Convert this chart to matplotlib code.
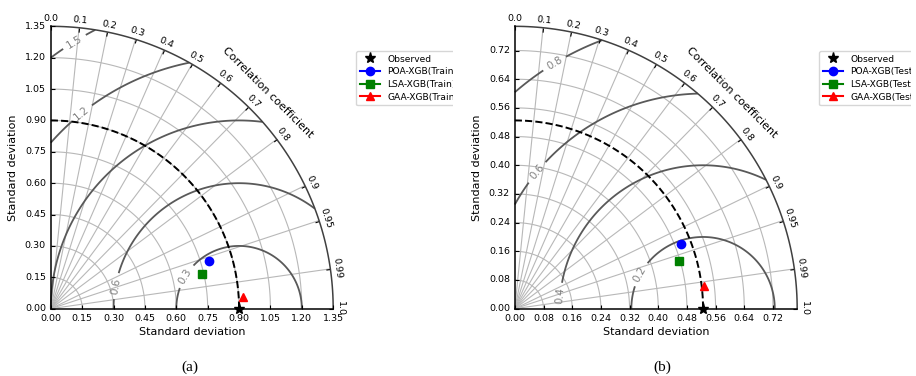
import numpy as np
import matplotlib as mpl
mpl.use('Agg')
import matplotlib.pyplot as plt
from matplotlib.projections import PolarAxes
from matplotlib.transforms import Bbox, TransformedBbox
import mpl_toolkits.axisartist.floating_axes as FA
import mpl_toolkits.axisartist.grid_finder as GF

# data
corr_ticks = [0.0, 0.1, 0.2, 0.3, 0.4, 0.5, 0.6, 0.7, 0.8, 0.9, 0.95, 0.99, 1.0]
markers = ["o", "s", "^"]
colors = ["b", "g", "r"]

# (a) train
names_train = ["POA-XGB(Train)", "LSA-XGB(Train)", "GAA-XGB(Train)"]
ref_train = 0.9
std_train = [0.787, 0.743, 0.919]
corr_train = [0.958, 0.975, 0.998]
sticks_train = [0.0, 0.15, 0.30, 0.45, 0.60, 0.75, 0.90, 1.05, 1.20, 1.35]
levels_train = [0.3, 0.6, 0.9, 1.2, 1.5]

# (b) test
names_test = ["POA-XGB(Test)", "LSA-XGB(Test)", "GAA-XGB(Test)"]
ref_test = 0.525
std_test = [0.498, 0.478, 0.532]
corr_test = [0.932, 0.960, 0.993]
sticks_test = [0.0, 0.08, 0.16, 0.24, 0.32, 0.40, 0.48, 0.56, 0.64, 0.72]
levels_test = [0.2, 0.4, 0.6, 0.8]

W, H = 916, 376


def taylor(rect, refstd, stds, corrs, names, sticks, levels, lab_pos):
    smax = 1.5 * refstd
    tr = PolarAxes.PolarTransform(apply_theta_transforms=False)
    tlocs = np.arccos(corr_ticks)
    gl1 = GF.FixedLocator(tlocs)
    tf1 = GF.DictFormatter(dict(zip(tlocs, [str(c) for c in corr_ticks])))
    gl2 = GF.FixedLocator(sticks)
    tf2 = GF.DictFormatter(dict(zip(sticks, ["%.2f" % s for s in sticks])))
    gh = FA.GridHelperCurveLinear(tr, extremes=(0, np.pi / 2, 0, smax),
                                  grid_locator1=gl1, tick_formatter1=tf1,
                                  grid_locator2=gl2, tick_formatter2=tf2)
    ax = fig.add_axes(rect, axes_class=FA.FloatingAxes, grid_helper=gh)

    # correlation arc
    ax.axis["top"].set_axis_direction("bottom")
    ax.axis["top"].toggle(ticklabels=True, label=True)
    ax.axis["top"].major_ticklabels.set_axis_direction("top")
    ax.axis["top"].label.set_axis_direction("top")
    ax.axis["top"].label.set_text("Correlation coefficient")
    # x axis
    ax.axis["left"].set_axis_direction("bottom")
    ax.axis["left"].label.set_text("Standard deviation")
    ax.axis["left"].toggle(ticklabels=True, label=True)
    # y axis
    ax.axis["right"].set_axis_direction("top")
    ax.axis["right"].toggle(ticklabels=True, label=True)
    ax.axis["right"].major_ticklabels.set_axis_direction("left")
    ax.axis["right"].label.set_axis_direction("left")
    ax.axis["right"].label.set_text("Standard deviation")
    ax.axis["bottom"].set_visible(False)

    for k in ["top", "left", "right"]:
        ax.axis[k].major_ticklabels.set_fontsize(6.8)
        ax.axis[k].label.set_fontsize(8)
        ax.axis[k].major_ticks.set_ticksize(3)
        ax.axis[k].line.set_linewidth(1.1)
    ax.axis["top"].line.set_color("0.25")
    ax.grid(True, color="0.72", lw=0.8)

    pax = ax.get_aux_axes(tr)

    # rms contours
    rs, ts = np.meshgrid(np.linspace(0, smax, 200), np.linspace(0, np.pi / 2, 200))
    rms = np.sqrt(refstd ** 2 + rs ** 2 - 2 * refstd * rs * np.cos(ts))
    cs = pax.contour(ts, rs, rms, levels, colors="0.35", linewidths=1.3)
    pax.clabel(cs, inline=True, fontsize=7.5, fmt="%.1f", colors="0.5",
               manual=lab_pos)

    t = np.linspace(0, np.pi / 2, 200)
    pax.plot(t, np.full_like(t, refstd), "k--", lw=1.4)
    hs = [pax.plot([0], [refstd], "k*", ls="", ms=8, label="Observed",
                   clip_on=False, zorder=5)[0]]
    for s, c, n, m, col in zip(stds, corrs, names, markers, colors):
        h, = pax.plot([np.arccos(c)], [s], marker=m, color=col, ls="-",
                      ms=6, label=n, zorder=5)
        hs.append(h)
    return ax, hs


def add_legend(hs, x0, y0, xclip):
    leg = fig.legend(hs, [h.get_label() for h in hs], loc="upper left",
                     bbox_to_anchor=(x0 / W, 1 - y0 / H), numpoints=1,
                     fontsize=6.6, borderaxespad=0, labelspacing=0.4,
                     handlelength=2.2)
    clip = TransformedBbox(Bbox.from_extents(0, 0, xclip / W, 1), fig.transFigure)
    for a in leg.findobj():
        a.set_clip_box(clip)
        a.set_clip_on(True)
    return leg


fig = plt.figure(figsize=(W / 100, H / 100), dpi=100)

R = 288
ax1, h1 = taylor([48 / W, 1 - 311.5 / H, R / W, R / H], ref_train, std_train,
                 corr_train, names_train, sticks_train, levels_train,
                 [(0.237, 0.663), (0.342, 0.325), (1.412, 0.942), (1.485, 1.285)])
ax2, h2 = taylor([512 / W, 1 - 311.5 / H, R / W, R / H], ref_test, std_test,
                 corr_test, names_test, sticks_test, levels_test,
                 [(0.265, 0.364), (0.285, 0.128), (1.417, 0.387), (1.413, 0.695)])

add_legend(h1, 356, 51, 453)
add_legend(h2, 819, 51, 911)

fig.text(190 / W, 1 - 367 / H, "(a)", ha="center", va="center",
         family="Liberation Serif", fontsize=11)
fig.text(662 / W, 1 - 367 / H, "(b)", ha="center", va="center",
         family="Liberation Serif", fontsize=11)

fig.savefig("out.png", dpi=100)
